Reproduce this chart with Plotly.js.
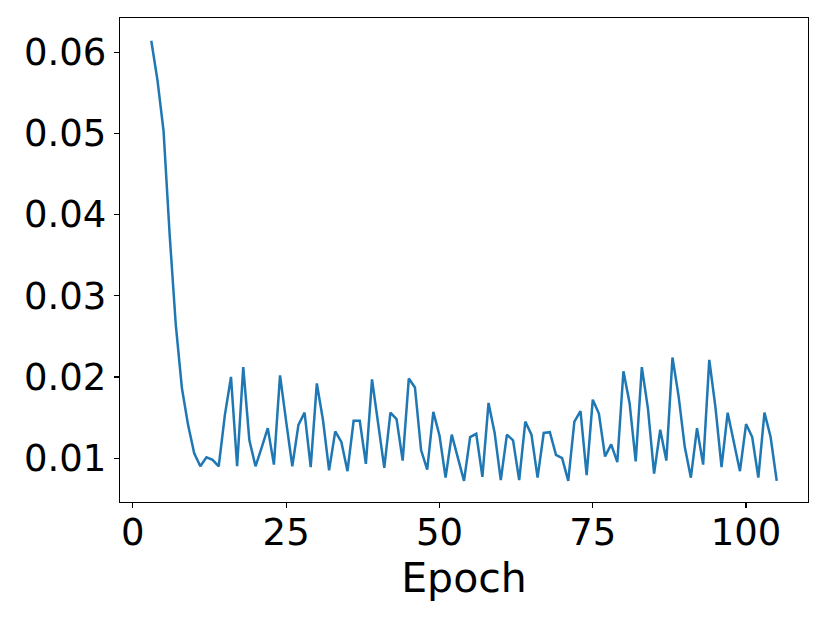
<!DOCTYPE html>
<html>
<head>
<meta charset="utf-8">
<script src="https://cdn.plot.ly/plotly-3.0.1.min.js"></script>
<style>
  html, body { margin: 0; padding: 0; background: #fff; }
  #chart { width: 830px; height: 623px; }
</style>
</head>
<body>
<div id="chart"></div>
<script>
// epoch number on the x axis
var epochs = [3, 4, 5, 6, 7, 8, 9, 10, 11, 12, 13, 14, 15, 16, 17, 18, 19, 20,
  21, 22, 23, 24, 25, 26, 27, 28, 29, 30, 31, 32, 33, 34, 35, 36, 37, 38, 39, 40,
  41, 42, 43, 44, 45, 46, 47, 48, 49, 50, 51, 52, 53, 54, 55, 56, 57, 58, 59, 60,
  61, 62, 63, 64, 65, 66, 67, 68, 69, 70, 71, 72, 73, 74, 75, 76, 77, 78, 79, 80,
  81, 82, 83, 84, 85, 86, 87, 88, 89, 90, 91, 92, 93, 94, 95, 96, 97, 98, 99, 100,
  101, 102, 103, 104, 105];

// loss value per epoch
var loss = [0.0614, 0.0566, 0.0503, 0.0375, 0.0264, 0.0186, 0.0141, 0.0106, 0.0090, 0.0101,
  0.0098, 0.0090, 0.0153, 0.0200, 0.0090, 0.0212, 0.0122, 0.0090,
  0.0113, 0.0137, 0.0092, 0.0202, 0.0145, 0.0090, 0.0141, 0.0156, 0.0089, 0.0192,
  0.0147, 0.0085, 0.0133, 0.0120, 0.0084, 0.0146, 0.0146, 0.0093, 0.0197, 0.0139,
  0.0088, 0.0156, 0.0148, 0.0097, 0.0198, 0.0187, 0.0110, 0.0086, 0.0157, 0.0128,
  0.0076, 0.0129, 0.0102, 0.0072, 0.0126, 0.0130, 0.0077, 0.0168, 0.0131, 0.0073,
  0.0129, 0.0122, 0.0073, 0.0145, 0.0129, 0.0076, 0.0131, 0.0132, 0.0104, 0.0100,
  0.0072, 0.0145, 0.0158, 0.0079, 0.0172, 0.0155, 0.0102, 0.0117, 0.0095, 0.0207,
  0.0168, 0.0096, 0.0212, 0.0161, 0.0081, 0.0135, 0.0097, 0.0224, 0.0176, 0.0114,
  0.0076, 0.0137, 0.0092, 0.0221, 0.0163, 0.0089, 0.0156, 0.0118, 0.0084, 0.0142,
  0.0126, 0.0076, 0.0156, 0.0126, 0.0072];

var xTicks = [0, 25, 50, 75, 100];
var yTicks = [0.01, 0.02, 0.03, 0.04, 0.05, 0.06];

var trace = {
  x: epochs,
  y: loss,
  type: 'scatter',
  mode: 'lines',
  line: { color: '#1f77b4', width: 2.5 },
  hoverinfo: 'none'
};

var axisStyle = {
  showgrid: false,
  zeroline: false,
  showline: true,
  mirror: true,
  linecolor: '#000',
  linewidth: 1.3,
  ticks: 'outside',
  ticklen: 5,
  tickwidth: 1.2,
  tickcolor: '#000',
  tickfont: { family: 'DejaVu Sans', size: 37, color: '#000' }
};

var layout = {
  width: 830,
  height: 623,
  margin: { l: 120, r: 22, t: 18, b: 121 },
  paper_bgcolor: '#fff',
  plot_bgcolor: '#fff',
  showlegend: false,
  font: { family: 'DejaVu Sans', color: '#000' },
  xaxis: Object.assign({}, axisStyle, {
    range: [-2.1, 110.1],
    tickvals: xTicks,
    ticktext: xTicks.map(String),
    ticklabelstandoff: -8,
    title: { text: 'Epoch', font: { family: 'DejaVu Sans', size: 41, color: '#000' }, standoff: 0 }
  }),
  yaxis: Object.assign({}, axisStyle, {
    range: [0.0046, 0.0642],
    tickvals: yTicks,
    ticktext: yTicks.map(function (v) { return v.toFixed(2); })
  })
};

Plotly.newPlot('chart', [trace], layout, { staticPlot: true });
</script>
</body>
</html>
